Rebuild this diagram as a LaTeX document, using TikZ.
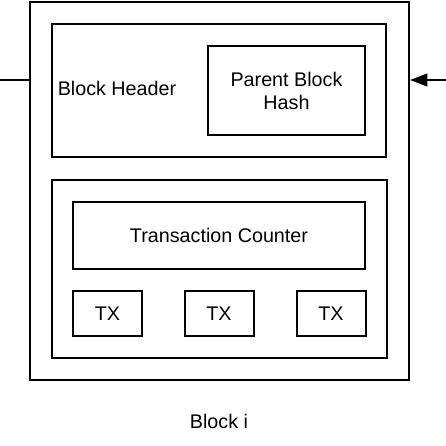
\documentclass[tikz,border=0pt]{standalone}
\usepackage{fontspec}
\setmainfont{Liberation Sans}
\usetikzlibrary{arrows.meta}

\tikzset{every picture/.style={line width=1.5pt}}
\tikzset{blockbox/.style={draw, rectangle, inner sep=0pt},
         txbox/.style={blockbox, minimum width=51.75pt, minimum height=33.75pt}}

\begin{document}
\begin{tikzpicture}[x=0.75pt,y=0.75pt,yscale=-1,xscale=1,font=\fontsize{14.8}{17.3}\selectfont]
        \useasboundingbox (0,0) rectangle (446,446);
        % outer block
        \node [blockbox, minimum width=284.6pt, minimum height=283.5pt] (block) at (219.25,191) {};
        % header part
        \node [blockbox, minimum width=250.5pt, minimum height=99.75pt] (header) at (219,90.5) {};
        \node [blockbox, minimum width=117.75pt, minimum height=66.75pt, align=center] (parent) at (286.5,90.5) {Parent Block\\Hash};
        \node (hdrlabel) at (117,88) {Block Header};
        % body part
        \node [blockbox, minimum width=251.25pt, minimum height=133.5pt] (body) at (219.5,269) {};
        \node [blockbox, minimum width=218.6pt, minimum height=50.25pt] (counter) at (219,235.5) {Transaction Counter};
        \node [txbox] (txa) at (107.5,313.5) {TX};
        \node [txbox] (txb) at (219,313.5) {TX};
        \node [txbox] (txc) at (331,313.5) {TX};
        % links to neighbour blocks
        \coordinate (prev) at (0,80);
        \coordinate (next) at (446,80);
        \draw (prev) -- (block.west |- prev);
        \draw [-{Triangle[length=13pt,width=9.5pt]}] (next) -- (block.east |- next);
        \node (caption) at (219,421) {Block i};

    \end{tikzpicture}
\end{document}
